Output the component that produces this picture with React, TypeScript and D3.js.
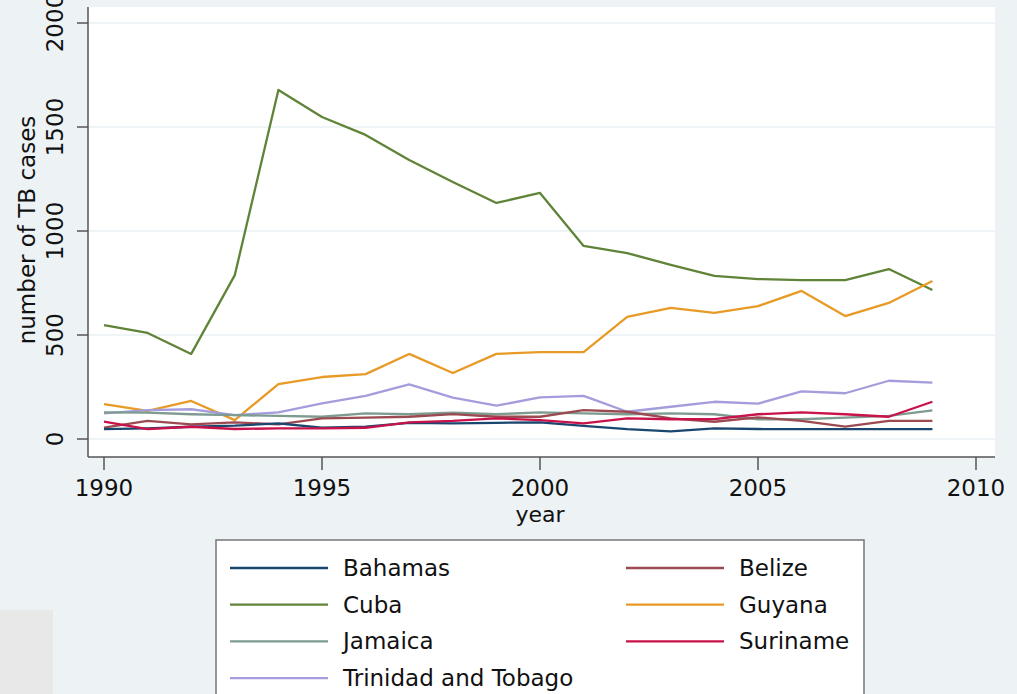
import * as d3 from "d3";

// years on the x axis
const years: number[] = [
  1990, 1991, 1992, 1993, 1994, 1995, 1996, 1997, 1998, 1999,
  2000, 2001, 2002, 2003, 2004, 2005, 2006, 2007, 2008, 2009,
];

// TB cases by country
const bahamas: number[] = [47, 51, 59, 64, 75, 54, 59, 78, 75, 78, 80, 63, 47, 37, 51, 48, 47, 47, 47, 47];
const belize: number[] = [55, 87, 70, 80, 70, 99, 103, 107, 120, 107, 107, 139, 131, 99, 83, 104, 87, 59, 87, 87];
const cuba: number[] = [548, 510, 409, 788, 1678, 1548, 1462, 1341, 1236, 1135, 1183, 928, 894, 837, 784, 769, 764, 764, 817, 716];
const guyana: number[] = [168, 135, 183, 91, 264, 298, 312, 409, 317, 409, 418, 418, 587, 630, 606, 639, 712, 591, 654, 760];
const jamaica: number[] = [128, 127, 119, 115, 111, 107, 123, 119, 127, 119, 128, 123, 119, 123, 119, 95, 95, 103, 111, 138];
const suriname: number[] = [83, 47, 59, 48, 51, 51, 54, 80, 87, 99, 91, 75, 99, 95, 96, 119, 128, 119, 107, 179];
const trinidad: number[] = [123, 139, 143, 115, 128, 171, 207, 263, 199, 160, 200, 207, 131, 155, 179, 170, 229, 220, 280, 271];

const xTicks: number[] = [1990, 1995, 2000, 2005, 2010];
const yTicks: number[] = [0, 500, 1000, 1500, 2000];

interface Series {
  name: string;
  values: number[];
  color: string;
}

const series: Series[] = [
  { name: "Bahamas", values: bahamas, color: "#1a476f" },
  { name: "Belize", values: belize, color: "#9a4a50" },
  { name: "Cuba", values: cuba, color: "#5f8438" },
  { name: "Guyana", values: guyana, color: "#e89a26" },
  { name: "Jamaica", values: jamaica, color: "#7d9b90" },
  { name: "Suriname", values: suriname, color: "#c8124a" },
  { name: "Trinidad and Tobago", values: trinidad, color: "#a49ddc" },
];

// order the lines are painted in
const drawOrder: string[] = ["Cuba", "Guyana", "Trinidad and Tobago", "Jamaica", "Belize", "Bahamas", "Suriname"];

export default function App() {
  const W = 1017;
  const H = 694;
  const left = 88;
  const right = 995;
  const top = 7;
  const bottom = 457;

  const x = d3.scaleLinear().domain([1990, 2010]).range([104, 976]);
  const y = d3.scaleLinear().domain([0, 2000]).range([439, 23]);

  const line = d3
    .line<number>()
    .x((d, i) => x(years[i]))
    .y((d) => y(d));

  const font = "'DejaVu Sans', 'Liberation Sans', sans-serif";

  return (
    <div style={{ position: "fixed", left: 0, top: 0 }}>
      <svg width={W} height={H} style={{ display: "block" }}>
        <rect x={0} y={0} width={W} height={H} fill="#edf2f5" />
        <rect x={0} y={610} width={53} height={H - 610} fill="#e8e8e8" />

        {/* plot region */}
        <rect x={left} y={top} width={right - left} height={bottom - top} fill="#ffffff" />
        {yTicks.map((t) => (
          <line key={"g" + t} x1={left} x2={right} y1={y(t)} y2={y(t)} stroke="#eaf0f3" strokeWidth={1.5} />
        ))}

        {/* series */}
        {drawOrder.map((n) => {
          const s = series.find((d) => d.name === n)!;
          return (
            <path key={n} d={line(s.values) || ""} fill="none" stroke={s.color} strokeWidth={2.3} strokeLinejoin="round" />
          );
        })}

        {/* axes */}
        <line x1={left} x2={left} y1={top} y2={bottom} stroke="#555" strokeWidth={1.5} />
        <line x1={left} x2={right} y1={bottom} y2={bottom} stroke="#555" strokeWidth={1.5} />
        {yTicks.map((t) => (
          <g key={"y" + t}>
            <line x1={77} x2={left} y1={y(t)} y2={y(t)} stroke="#555" strokeWidth={1.5} />
            <text
              transform={`translate(63,${y(t)}) rotate(-90)`}
              textAnchor="middle"
              fontFamily={font}
              fontSize={23}
              fill="#111"
            >
              {t}
            </text>
          </g>
        ))}
        {xTicks.map((t) => (
          <g key={"x" + t}>
            <line x1={x(t)} x2={x(t)} y1={bottom} y2={470} stroke="#555" strokeWidth={1.5} />
            <text x={x(t)} y={496} textAnchor="middle" fontFamily={font} fontSize={23} fill="#111">
              {t}
            </text>
          </g>
        ))}
        <text x={x(2000)} y={522} textAnchor="middle" fontFamily={font} fontSize={22} fill="#111">
          year
        </text>
        <text
          transform={`translate(35,230) rotate(-90)`}
          textAnchor="middle"
          fontFamily={font}
          fontSize={23}
          fill="#111"
        >
          number of TB cases
        </text>

        {/* legend */}
        <rect x={216} y={540} width={648} height={170} fill="#ffffff" stroke="#777" strokeWidth={1.5} />
        {series.map((s, i) => {
          const col = i % 2;
          const row = Math.floor(i / 2);
          const lx = col === 0 ? 230 : 626;
          const ly = 568 + row * 36.7;
          return (
            <g key={"l" + s.name}>
              <line x1={lx} x2={lx + 98} y1={ly} y2={ly} stroke={s.color} strokeWidth={2.3} />
              <text x={lx + 113} y={ly + 8} fontFamily={font} fontSize={23} fill="#111">
                {s.name}
              </text>
            </g>
          );
        })}
      </svg>
    </div>
  );
}
